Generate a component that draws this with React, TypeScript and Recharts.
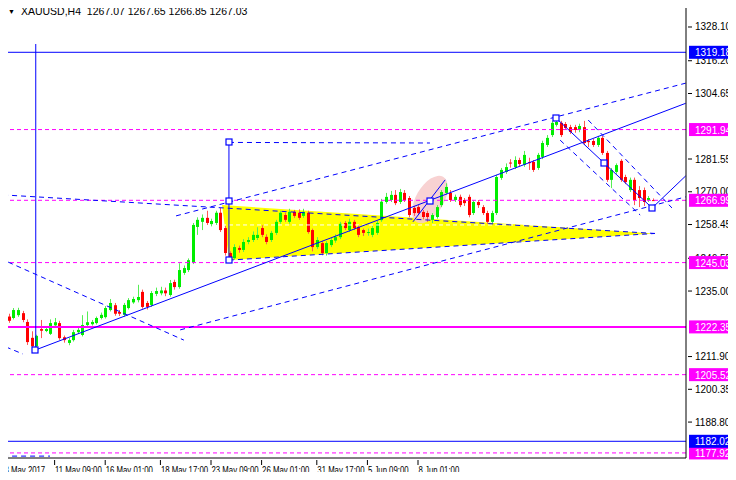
import React from 'react'
import { ComposedChart, Bar, XAxis, YAxis, ReferenceLine, ReferenceArea, ReferenceDot } from 'recharts'

// XAUUSD H4 bars (bar index 0 = 8 May 2017)
const opens = [
  1230.8, 1226.0, 1225.5, 1226.5, 1227.2, 1224.1, 1218.5, 1215.5, 1221.6, 1220.9,
  1219.9, 1222.9, 1223.7, 1218.7, 1216.7, 1217.7, 1220.5, 1219.5, 1223.0, 1223.3,
  1223.7, 1225.5, 1225.8, 1228.3, 1230.0, 1227.6, 1226.6, 1229.0, 1231.0, 1231.8,
  1234.7, 1230.8, 1230.1, 1234.0, 1234.2, 1235.2, 1233.6, 1238.2, 1236.4, 1241.4,
  1242.4, 1245.2, 1257.6, 1259.4, 1260.8, 1258.6, 1259.0, 1262.6, 1257.2, 1248.4,
  1246.6, 1250.2, 1249.5, 1252.3, 1253.0, 1253.7, 1257.2, 1254.1, 1253.0, 1255.5,
  1259.4, 1261.8, 1259.4, 1262.9, 1262.6, 1261.5, 1262.6, 1256.5, 1250.5, 1251.9,
  1248.4, 1251.2, 1252.8, 1254.0, 1259.0, 1256.5, 1259.4, 1257.6, 1256.5, 1255.5,
  1254.8, 1255.5, 1260.0, 1266.4, 1267.1, 1268.9, 1266.4, 1269.6, 1267.8, 1264.3,
  1264.6, 1262.9, 1262.5, 1260.1, 1261.1, 1265.3, 1269.6, 1269.6, 1267.1, 1268.2,
  1267.1, 1268.2, 1262.5, 1266.4, 1264.6, 1262.5, 1259.4, 1262.5, 1274.9, 1277.0,
  1280.3, 1278.7, 1281.2, 1279.5, 1280.5, 1280.5, 1278.4, 1282.3, 1286.5, 1290.0,
  1293.6, 1294.3, 1293.9, 1292.8, 1292.8, 1291.8, 1292.8, 1287.9, 1287.9, 1286.5,
  1289.0, 1283.7, 1274.2, 1277.0, 1280.9, 1275.2, 1270.6, 1274.2, 1270.6, 1270.6,
  1267.1, 1267.07,
]
const highs = [
  1231.5, 1227.0, 1229.0, 1229.1, 1228.0, 1225.0, 1220.8, 1219.6, 1224.8, 1222.5,
  1225.0, 1225.5, 1224.5, 1219.3, 1218.5, 1221.3, 1222.0, 1226.5, 1227.8, 1224.8,
  1226.0, 1227.4, 1229.7, 1232.2, 1230.8, 1228.3, 1230.8, 1232.5, 1233.0, 1237.2,
  1235.5, 1231.5, 1235.0, 1236.2, 1236.5, 1236.2, 1238.9, 1239.0, 1244.8, 1244.0,
  1246.5, 1259.0, 1261.0, 1262.0, 1263.3, 1260.5, 1263.3, 1264.3, 1258.0, 1249.0,
  1251.5, 1251.0, 1253.3, 1254.0, 1256.0, 1257.5, 1258.2, 1255.0, 1256.2, 1260.1,
  1263.3, 1262.6, 1264.0, 1263.6, 1263.8, 1264.0, 1263.3, 1257.0, 1254.0, 1252.6,
  1252.6, 1253.7, 1255.0, 1259.4, 1259.7, 1260.5, 1260.1, 1258.3, 1257.0, 1257.0,
  1258.0, 1259.7, 1267.5, 1269.6, 1270.3, 1270.6, 1271.0, 1270.6, 1268.5, 1265.0,
  1265.3, 1263.6, 1263.3, 1262.5, 1265.3, 1270.6, 1273.0, 1270.6, 1269.0, 1269.0,
  1267.8, 1269.0, 1267.0, 1267.1, 1265.3, 1263.3, 1263.3, 1276.0, 1278.4, 1280.0,
  1281.5, 1282.5, 1282.0, 1284.4, 1282.0, 1281.2, 1283.7, 1288.0, 1290.0, 1295.0,
  1296.0, 1295.0, 1294.6, 1293.6, 1293.6, 1294.0, 1295.0, 1288.6, 1288.6, 1289.7,
  1289.7, 1284.4, 1278.4, 1280.0, 1281.5, 1276.0, 1275.0, 1275.0, 1272.0, 1271.5,
  1268.5, 1267.65,
]
const lows = [
  1225.3, 1223.8, 1225.0, 1225.9, 1224.0, 1216.0, 1214.8, 1214.2, 1218.4, 1220.5,
  1219.5, 1222.0, 1217.8, 1216.8, 1215.9, 1217.2, 1219.9, 1219.0, 1222.5, 1222.8,
  1223.2, 1225.0, 1225.3, 1227.8, 1226.3, 1226.2, 1226.0, 1228.5, 1230.5, 1231.0,
  1228.8, 1228.5, 1229.4, 1233.2, 1233.5, 1233.2, 1233.0, 1235.5, 1235.8, 1240.7,
  1241.7, 1244.5, 1254.8, 1256.5, 1258.3, 1257.8, 1258.3, 1255.8, 1247.5, 1245.9,
  1246.0, 1248.5, 1248.8, 1251.5, 1252.3, 1253.0, 1254.0, 1251.5, 1252.3, 1254.8,
  1258.7, 1259.4, 1258.7, 1260.8, 1260.1, 1260.8, 1255.2, 1249.0, 1249.8, 1247.6,
  1247.5, 1250.5, 1252.0, 1253.3, 1256.5, 1255.8, 1256.5, 1254.0, 1254.4, 1254.5,
  1254.0, 1254.8, 1259.4, 1265.8, 1266.4, 1265.3, 1265.7, 1266.4, 1261.0, 1261.5,
  1261.8, 1260.3, 1259.4, 1259.0, 1260.5, 1264.6, 1269.0, 1266.4, 1266.4, 1264.6,
  1265.0, 1261.0, 1261.8, 1264.3, 1261.8, 1258.7, 1258.7, 1261.8, 1274.2, 1276.3,
  1278.5, 1278.0, 1279.0, 1278.8, 1277.7, 1277.0, 1277.7, 1281.5, 1285.8, 1289.3,
  1293.0, 1289.3, 1291.8, 1290.4, 1290.8, 1291.0, 1286.5, 1285.8, 1285.8, 1285.8,
  1283.0, 1273.5, 1271.3, 1276.3, 1273.5, 1272.7, 1269.9, 1265.3, 1264.6, 1265.0,
  1266.4, 1266.85,
]
const closes = [
  1225.8, 1224.5, 1228.3, 1228.3, 1224.8, 1217.0, 1215.5, 1219.2, 1221.0, 1221.6,
  1223.7, 1224.0, 1218.4, 1217.7, 1217.7, 1220.5, 1221.3, 1223.0, 1224.0, 1224.1,
  1225.5, 1226.6, 1229.0, 1230.8, 1227.0, 1227.0, 1230.1, 1231.8, 1232.2, 1232.9,
  1229.4, 1229.4, 1234.3, 1235.0, 1235.2, 1234.2, 1237.8, 1236.4, 1242.4, 1243.1,
  1245.9, 1258.3, 1260.1, 1260.8, 1259.0, 1259.7, 1262.6, 1256.5, 1248.4, 1246.6,
  1250.5, 1249.5, 1252.3, 1253.0, 1254.8, 1254.8, 1254.8, 1252.3, 1255.5, 1259.4,
  1262.6, 1260.1, 1262.9, 1261.5, 1260.8, 1262.9, 1255.8, 1250.5, 1253.0, 1248.4,
  1251.9, 1253.0, 1254.0, 1258.7, 1257.2, 1259.4, 1257.2, 1254.8, 1255.5, 1255.8,
  1257.2, 1259.0, 1266.5, 1268.2, 1268.9, 1266.0, 1269.9, 1267.1, 1261.8, 1262.5,
  1262.5, 1261.1, 1261.1, 1261.8, 1264.6, 1269.9, 1271.7, 1267.1, 1268.2, 1265.3,
  1266.0, 1261.8, 1266.4, 1265.3, 1262.5, 1259.4, 1262.5, 1275.2, 1277.7, 1278.7,
  1280.0, 1281.2, 1279.8, 1283.0, 1280.1, 1277.7, 1283.0, 1287.2, 1289.0, 1294.3,
  1294.6, 1290.0, 1292.5, 1291.1, 1291.8, 1293.2, 1287.2, 1287.5, 1286.5, 1289.0,
  1283.7, 1274.2, 1277.7, 1279.4, 1274.2, 1273.4, 1274.2, 1267.1, 1267.8, 1266.4,
  1267.8, 1267.03,
]

const timeTicks = [0, 11, 22, 34, 45, 56, 68, 79, 90]
const timeLabels = ['8 May 2017', '11 May 09:00', '16 May 01:00', '18 May 17:00', '23 May 09:00',
  '26 May 01:00', '31 May 17:00', '5 Jun 09:00', '8 Jun 01:00']
// price scale labels that are not hidden under a level tag
const priceTicks = [1328.1, 1316.2, 1304.65, 1281.55, 1270.0, 1258.45, 1246.55,
  1235.0, 1211.9, 1200.35, 1188.8]

// horizontal levels drawn on the chart
const blueLevels = [1319.18, 1182.02]
const dashedLevels = [1291.94, 1266.99, 1245.03, 1205.52, 1177.92]
const supportLevel = 1222.35

// drawn objects, as [bar index, price] pairs
const trendLines = [
  [[6.9, 1322.1], [6.9, 1214.2]],
  [[6.8, 1214.2], [148.2, 1301.2]],
  [[48.9, 1287.4], [48.9, 1245.9]],
  [[88.9, 1259.4], [95.9, 1274.2]],
  [[120, 1296.0], [140.9, 1264.3]],
  [[140.9, 1264.3], [148.2, 1275.6]],
]
const channelLines = [
  [[37.4, 1261.5], [148.2, 1308.3]],
  [[38.3, 1221.3], [148.2, 1268.2]],
  [[0.9, 1245.2], [39.1, 1217.7]],
  [[0.4, 1215.3], [4.1, 1212.8]],
  [[-0.2, 1268.9], [141.5, 1255.3]],
  [[48.9, 1245.9], [141.5, 1255.3]],
  [[48.9, 1287.4], [92.6, 1287.2]],
  [[120.9, 1288.2], [138.3, 1261.8]],
  [[127, 1295.3], [145.2, 1264.3]],
  [[-0.2, 1176.8], [10, 1176.8]],
]
const anchors = [[6.8, 1214.2], [48.9, 1287.4], [48.9, 1266.7], [48.9, 1245.9], [92.6, 1266.8],
  [120, 1296.0], [130.4, 1280.1], [140.9, 1264.3]]
const triangle = [[47.4, 1265.3], [48.9, 1245.9], [141.5, 1255.3]]
const triangleMid = [[47.4, 1258.3], [141.5, 1258.3]]
const ellipseBox = [[88.6, 1258.0], [96.6, 1276.5]]

const candles = opens.map((o, i) => ({ i, o, h: highs[i], l: lows[i], c: closes[i], range: [lows[i], highs[i]] }))
const levelPrices = [...dashedLevels, supportLevel, ...blueLevels]

const FONT = '"Liberation Sans", Arial, sans-serif'
const BLUE = '#0000ff'
const MAGENTA = '#ff00ff'

const Candle = (props: any) => {
  const { x, y, width, height, payload } = props
  const { o, h, l, c } = payload
  const top = Math.min(y, y + height)
  const k = Math.abs(height) / (h - l)
  const cx = Math.round(x + width / 2)
  const up = c >= o
  const col = up ? '#00ee00' : '#ff0000'
  const bt = top + (h - Math.max(o, c)) * k
  const bb = top + (h - Math.min(o, c)) * k
  return (
    <g>
      <line x1={cx + 0.5} x2={cx + 0.5} y1={top} y2={top + Math.abs(height)} stroke={up ? '#55ee55' : '#ff5555'} />
      <rect x={cx - 1} y={bt} width={3} height={Math.max(1, bb - bt)} fill={col} />
    </g>
  )
}

// price axis: plain ticks, then the coloured price tags of the drawn levels on top
const YTick = ({ x, y, payload }: any) => {
  const v = payload.value
  if (levelPrices.includes(v)) {
    const fill = blueLevels.includes(v) ? BLUE : MAGENTA
    return (
      <g>
        <rect x={x + 1} y={y - 6.5} width={46} height={13} fill={fill} />
        <text x={x + 7} y={y + 4} fontSize={10} fontFamily={FONT} fill="#fff">{v.toFixed(2)}</text>
      </g>
    )
  }
  return (
    <g>
      <line x1={x} x2={x + 4} y1={y} y2={y} stroke="#000" />
      <text x={x + 7} y={y + 3.5} fontSize={10} fontFamily={FONT} fill="#000">{v.toFixed(2)}</text>
    </g>
  )
}

const XTick = ({ x, y, payload }: any) => (
  <g>
    <line x1={x} x2={x} y1={y} y2={y + 5} stroke="#000" />
    <text transform={`translate(${x + 0.5},${y + 14}) scale(0.78,1)`} fontSize={10} fontFamily={FONT} fill="#000">
      {timeLabels[timeTicks.indexOf(payload.value)]}
    </text>
  </g>
)

const TriangleShape = (props: any) => {
  const { x, y, width, height } = props
  const x0 = triangle[0][0], x1 = triangle[2][0]
  const pTop = triangle[0][1], pBot = triangle[1][1]
  const pts = triangle.map(([i, p]) => `${x + width * (i - x0) / (x1 - x0)},${y + height * (pTop - p) / (pTop - pBot)}`).join(' ')
  return <polygon points={pts} fill="#ffff00" />
}

const EllipseShape = (props: any) => {
  const { x, y, width, height } = props
  const cx = x + width / 2, cy = y + height / 2
  return <ellipse cx={cx} cy={cy} rx={width * 0.38} ry={height * 0.5} transform={`rotate(30 ${cx} ${cy})`} fill="#f7caca" fillOpacity={0.85} />
}

const Square = ({ cx, cy }: any) => (
  <rect x={Math.round(cx) - 3} y={Math.round(cy) - 3} width={6} height={6} fill="#ffffff" stroke={BLUE} strokeWidth={1.2} />
)

export default function App() {
  return (
    <div style={{ margin: -8, position: 'relative', width: 736, height: 480, background: '#fff' }}>
      <ComposedChart width={736} height={480} data={candles} margin={{ top: 3, right: 0, bottom: 0, left: 3 }}>
        <XAxis dataKey="i" type="number" domain={[-0.22, 148.26]} allowDataOverflow ticks={timeTicks}
          height={22} tickSize={0} tickLine={false} tick={<XTick />} axisLine={{ stroke: '#000' }} interval={0} />
        <YAxis orientation="right" type="number" domain={[1176.13, 1336.56]} allowDataOverflow
          ticks={[...priceTicks, ...levelPrices]}
          width={50} tickSize={0} tickLine={false} tick={<YTick />} axisLine={{ stroke: '#000' }} interval={0} />
        <ReferenceArea x1={triangle[0][0]} x2={triangle[2][0]} y1={triangle[1][1]} y2={triangle[0][1]}
          ifOverflow="visible" shape={<TriangleShape />} />
        <ReferenceArea x1={ellipseBox[0][0]} x2={ellipseBox[1][0]} y1={ellipseBox[0][1]} y2={ellipseBox[1][1]}
          ifOverflow="visible" shape={<EllipseShape />} />
        <ReferenceLine segment={triangleMid.map(([x, y]) => ({ x, y }))} stroke="#ffffff" strokeDasharray="4 3" ifOverflow="visible" />
        <Bar dataKey="range" barSize={3} shape={<Candle />} isAnimationActive={false} />
        {dashedLevels.map((p) => (
          <ReferenceLine key={p} y={p} stroke={MAGENTA} strokeDasharray="4 3" />
        ))}
        <ReferenceLine y={supportLevel} stroke={MAGENTA} strokeWidth={2} />
        {blueLevels.map((p) => (
          <ReferenceLine key={p} y={p} stroke={BLUE} />
        ))}
        {channelLines.map((s, k) => (
          <ReferenceLine key={'d' + k} segment={s.map(([x, y]) => ({ x, y }))} stroke={BLUE} strokeDasharray="5 4" ifOverflow="visible" />
        ))}
        {trendLines.map((s, k) => (
          <ReferenceLine key={'t' + k} segment={s.map(([x, y]) => ({ x, y }))} stroke={BLUE} ifOverflow="visible" />
        ))}
        {anchors.map(([x, y], k) => (
          <ReferenceDot key={'a' + k} x={x} y={y} r={3} ifOverflow="visible" shape={<Square />} />
        ))}
      </ComposedChart>
      <div style={{ position: 'absolute', left: 1, top: 0, width: 2, height: 458, background: '#808080' }} />
      <div style={{ position: 'absolute', left: 8, top: 4, fontFamily: FONT, fontSize: 10.5, color: '#000', whiteSpace: 'pre', lineHeight: '14px' }}>
        <span style={{ fontSize: 7, marginRight: 6, verticalAlign: 1 }}>▼</span>XAUUSD,H4  1267.07 1267.65 1266.85 1267.03
      </div>
    </div>
  )
}
